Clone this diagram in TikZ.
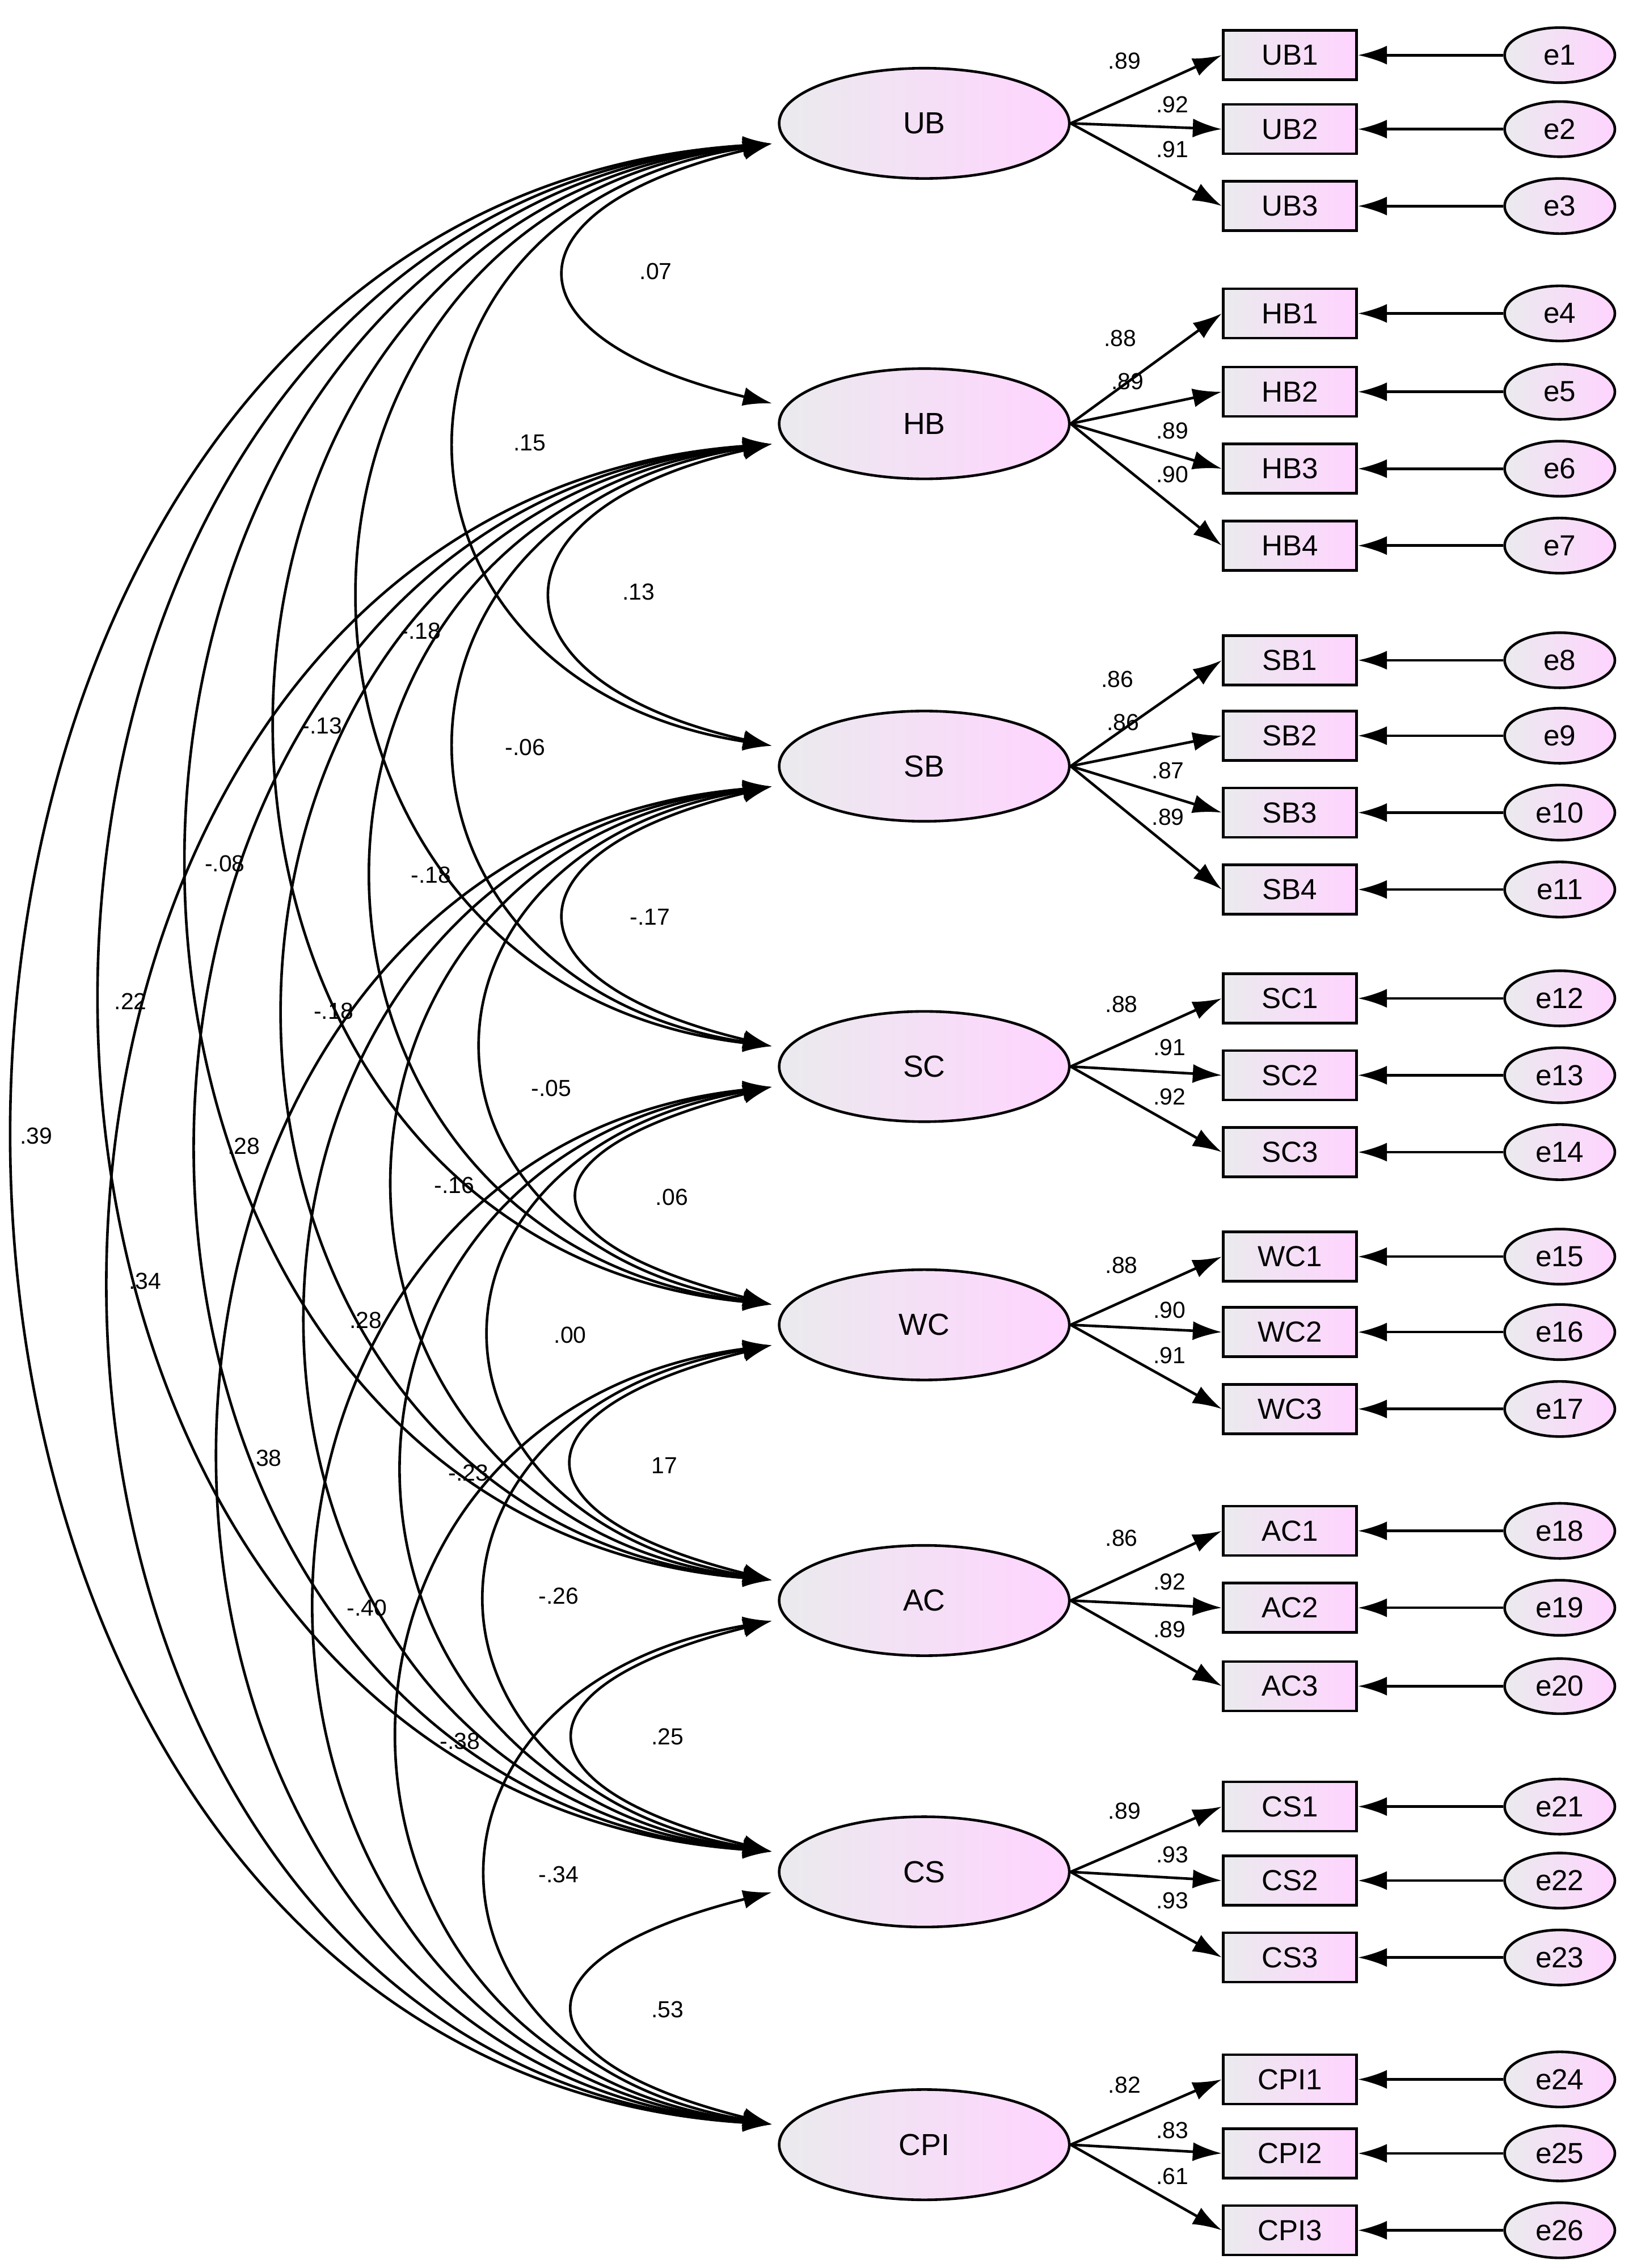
\documentclass[tikz,border=0pt]{standalone}
\usepackage{fontspec}
\setmainfont{Liberation Sans}
\usetikzlibrary{shapes.geometric,arrows.meta}
\begin{document}
\begin{tikzpicture}[x=1pt,y=-1pt,
  tip/.tip={Latex[length=20pt,width=13pt]},
  lat/.style={ellipse,draw,line width=1.8pt,minimum width=200pt,minimum height=76pt,left color=blue!8!gray!15,right color=magenta!17,font=\fontsize{21}{24}\selectfont},
  ind/.style={rectangle,draw,line width=1.8pt,minimum width=92pt,minimum height=34pt,left color=blue!8!gray!15,right color=magenta!17,font=\fontsize{20}{24}\selectfont,inner sep=0pt},
  err/.style={ellipse,draw,line width=1.8pt,minimum width=76pt,minimum height=38pt,left color=blue!8!gray!15,right color=magenta!17,font=\fontsize{20}{24}\selectfont,inner sep=0pt},
  arr/.style={line width=1.8pt,-tip},
  cov/.style={line width=1.8pt,tip-tip},
  lab/.style={font=\fontsize{16}{18}\selectfont,inner sep=1pt}]
\useasboundingbox (0,0) rectangle (1131,1563);
% latent
\foreach \n/\t/\y in {1/UB/85,2/HB/292,3/SB/528,4/SC/735,5/WC/913,6/AC/1103,7/CS/1290,8/CPI/1478}
  \node[lat] (L\n) at (637,\y) {\t};
% indicators, errors, loadings
\foreach \k/\t/\y/\l/\lx/\ly/\p in {
 1/UB1/38/1/775/42/.89, 2/UB2/89/1/808/72/.92, 3/UB3/142/1/808/103/.91,
 4/HB1/216/2/772/233/.88, 5/HB2/270/2/777/263/.89, 6/HB3/323/2/808/297/.89, 7/HB4/376/2/808/327/.90,
 8/SB1/455/3/770/468/.86, 9/SB2/507/3/774/498/.86, 10/SB3/560/3/805/531/.87, 11/SB4/613/3/805/563/.89,
 12/SC1/688/4/773/692/.88, 13/SC2/741/4/806/722/.91, 14/SC3/794/4/806/756/.92,
 15/WC1/866/5/773/872/.88, 16/WC2/918/5/806/903/.90, 17/WC3/971/5/806/934/.91,
 18/AC1/1055/6/773/1060/.86, 19/AC2/1108/6/806/1090/.92, 20/AC3/1162/6/806/1123/.89,
 21/CS1/1245/7/775/1248/.89, 22/CS2/1296/7/808/1278/.93, 23/CS3/1349/7/808/1310/.93,
 24/CPI1/1433/8/775/1437/.82, 25/CPI2/1484/8/808/1468/.83, 26/CPI3/1537/8/808/1500/.61}{
  \node[ind] (I\k) at (889,\y) {\t};
  \node[err] (E\k) at (1075,\y) {e\k};
  \draw[arr] (L\l.east) -- (I\k.west);
  \draw[arr] (E\k.west) -- (I\k.east);
  \node[lab] at (\lx,\ly) {\p};
}
% covariances
\foreach \a/\b/\ya/\yb/\lx/\ly/\v in {
 1/2/85/292/452/187/.07, 1/3/85/528/365/305/.15, 1/4/85/735/290/435/-.18, 1/5/85/913/222/500/-.13,
 1/6/85/1103/155/595/-.08, 1/7/85/1290/90/690/.22, 1/8/85/1478/25/783/.39,
 2/3/292/528/440/408/.13, 2/4/292/735/362/515/-.06, 2/5/292/913/297/603/-.18, 2/6/292/1103/230/697/-.18,
 2/7/292/1290/168/790/.28, 2/8/292/1478/100/883/.34,
 3/4/528/735/448/632/-.17, 3/5/528/913/380/750/-.05, 3/6/528/1103/313/817/-.16, 3/7/528/1290/252/910/.28, 3/8/528/1478/183/1005/.38,
 4/5/735/913/463/825/.06, 4/6/735/1103/393/920/.00, 4/7/735/1290/323/1015/-.23, 4/8/735/1478/253/1108/-.40,
 5/6/913/1103/458/1010/17, 5/7/913/1290/385/1100/-.26, 5/8/913/1478/317/1200/-.38,
 6/7/1103/1290/460/1197/.25, 6/8/1103/1478/385/1292/-.34,
 7/8/1290/1478/460/1385/.53}{
  \pgfmathsetmacro\c{99+0.427*(\yb-\ya)}
  \draw[cov] ([xshift=-4pt,yshift=-14pt]L\a.west) .. controls +(-\c,45) and +(-\c,-45) .. ([xshift=-4pt,yshift=14pt]L\b.west);
  \node[lab] at (\lx,\ly) {\v};
}
\end{tikzpicture}
\end{document}
